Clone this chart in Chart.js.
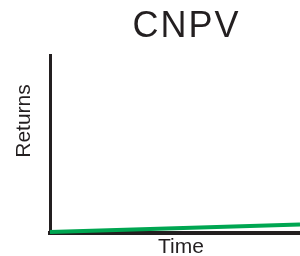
<!DOCTYPE html>
<html>
<head>
<meta charset="utf-8">
<script src="https://cdn.jsdelivr.net/npm/chart.js@4/dist/chart.umd.min.js"></script>
<style>
html,body{margin:0;padding:0;background:#fff;}
#wrap{width:300px;height:256px;}
</style>
</head>
<body>
<div id="wrap"><canvas id="c" width="300" height="256"></canvas></div>
<script>
// Data
const chartTitle = 'CNPV';
const xAxisLabel = 'Time';
const yAxisLabel = 'Returns';
const times = [0, 10];
const returns = [0.5, 4.8];

const FONT = "'Liberation Sans', Arial, Helvetica, sans-serif";
const INK = '#231f20';

function shiftDrawTitle(scale, dx, dy) {
  if (scale._nudged) return;
  scale._nudged = true;
  const orig = scale.drawTitle;
  scale.drawTitle = function () {
    const l = this.left, r = this.right, t = this.top, b = this.bottom;
    this.left = l + dx; this.right = r + dx; this.top = t + dy; this.bottom = b + dy;
    orig.apply(this, arguments);
    this.left = l; this.right = r; this.top = t; this.bottom = b;
  };
}

const nudge = {
  id: 'nudge',
  afterLayout(chart) {
    const tb = chart.titleBlock;
    if (tb) {
      tb.left += 73;
      if (!tb._nudged) {
        tb._nudged = true;
        const d = tb.draw;
        tb.draw = function () {
          const ctx = this.ctx;
          const prev = ctx.letterSpacing;
          ctx.letterSpacing = '2px';
          d.apply(this, arguments);
          ctx.letterSpacing = prev || '0px';
        };
      }
    }
    shiftDrawTitle(chart.scales.y, 0, -23);
    shiftDrawTitle(chart.scales.x, 6, 0);
  }
};

new Chart(document.getElementById('c'), {
  type: 'line',
  data: {
    datasets: [{
      data: times.map((t, i) => ({ x: t, y: returns[i] })),
      borderColor: '#00a651',
      borderWidth: 4,
      pointRadius: 0,
      pointHoverRadius: 0,
      tension: 0,
      clip: false
    }]
  },
  options: {
    responsive: false,
    animation: false,
    layout: { padding: 0, autoPadding: false },
    plugins: {
      legend: { display: false },
      tooltip: { enabled: false },
      title: {
        display: true,
        text: chartTitle,
        color: INK,
        font: { family: FONT, size: 36, weight: 'normal' },
        padding: { top: 5.9, bottom: 5.9 }
      }
    },
    scales: {
      x: {
        type: 'linear',
        min: 0, max: 10,
        grid: { display: false, drawTicks: false },
        ticks: { display: false },
        border: { display: true, color: INK, width: 4 },
        title: {
          display: true, text: xAxisLabel, color: INK,
          font: { family: FONT, size: 21 },
          padding: { top: 1.6, bottom: -3.8 }
        }
      },
      y: {
        min: 0, max: 100,
        grid: { display: false, drawTicks: false },
        ticks: { display: false },
        border: { display: true, color: INK, width: 3 },
        title: {
          display: true, text: yAxisLabel, color: INK,
          font: { family: FONT, size: 21 },
          padding: { top: 11.4, bottom: 13.4 }
        }
      }
    }
  },
  plugins: [nudge]
});
</script>
</body>
</html>
